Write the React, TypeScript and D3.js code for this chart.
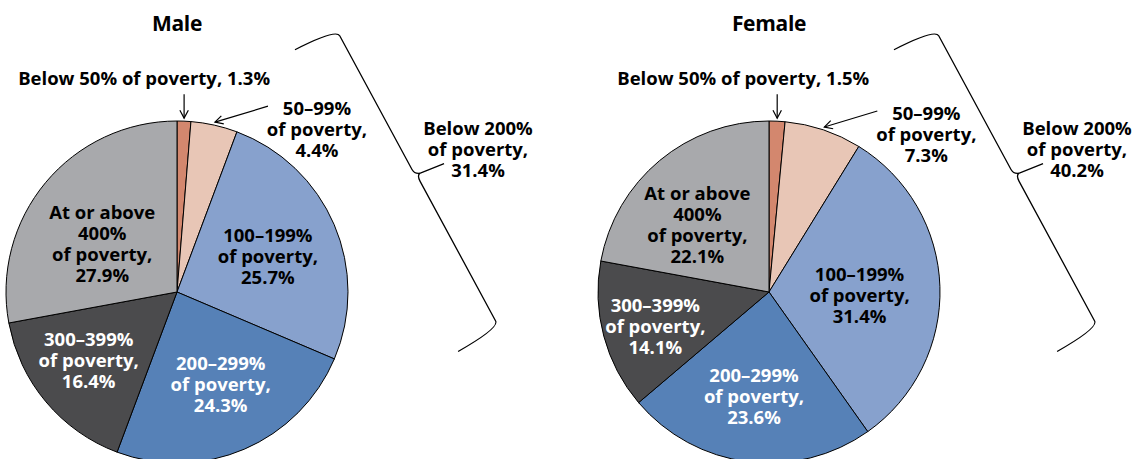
import React from "react";
import * as d3 from "d3";

// poverty bands, clockwise from 12 o'clock
const bands = ["Below 50%", "50–99%", "100–199%", "200–299%", "300–399%", "At or above 400%"];
const maleShares = [1.3, 4.4, 25.7, 24.3, 16.4, 27.9];
const femaleShares = [1.5, 7.3, 31.4, 23.6, 14.1, 22.1];
const below200Shares = [31.4, 40.2];
const panelTitles = ["Male", "Female"];

const bandColors = ["#d3876e", "#e8c6b6", "#87a1cd", "#5681b7", "#4b4b4d", "#a8a9ac"];
const textColors = ["#000", "#000", "#000", "#fff", "#fff", "#000"];

const W = 1144;
const H = 459;
const R = 171;
const LINE = 21;
const FONT = "'Open Sans', Lato, sans-serif";
const FS = 18.5;

// hand tuned placement of the annotations for each panel
const panels = [
  {
    cx: 177, cy: 292, braceDx: 0, below50Dx: -40,
    // [angle nudge in degrees, radius fraction] for bands 2..5
    nudge: [[2, 0.57], [-2, 0.6], [2, 0.655], [-7, 0.52]],
  },
  {
    cx: 769, cy: 292, braceDx: 7, below50Dx: -34,
    nudge: [[4, 0.53], [1, 0.615], [-2, 0.695], [-7, 0.575]],
  },
];

const fmt = d3.format(".1f");

const polar = (a: number, r: number): [number, number] => [r * Math.sin(a), -r * Math.cos(a)];

const linesFor = (i: number, v: number) => {
  const pct = fmt(v) + "%";
  if (i === 0) return [`${bands[0]} of poverty, ${pct}`];
  if (i === 5) return ["At or above", "400%", "of poverty,", pct];
  return [bands[i], "of poverty,", pct];
};

const Label = ({ x, y, lines, fill = "#000" }: { x: number; y: number; lines: string[]; fill?: string }) => (
  <text
    x={x}
    y={y}
    textAnchor="middle"
    fontFamily={FONT}
    fontWeight={700}
    fontSize={FS}
    fill={fill}
  >
    {lines.map((l, i) => (
      <tspan key={i} x={x} dy={i === 0 ? 0 : LINE}>
        {l}
      </tspan>
    ))}
  </text>
);

const Arrow = ({ x1, y1, x2, y2 }: { x1: number; y1: number; x2: number; y2: number }) => {
  const a = Math.atan2(y2 - y1, x2 - x1);
  const hl = 9;
  const spread = (28 * Math.PI) / 180;
  const h1 = [x2 - hl * Math.cos(a - spread), y2 - hl * Math.sin(a - spread)];
  const h2 = [x2 - hl * Math.cos(a + spread), y2 - hl * Math.sin(a + spread)];
  return (
    <g stroke="#000" strokeWidth={1.2} fill="none">
      <line x1={x1} y1={y1} x2={x2} y2={y2} />
      <polyline points={`${h1[0]},${h1[1]} ${x2},${y2} ${h2[0]},${h2[1]}`} />
    </g>
  );
};

const Brace = ({ cx, cy }: { cx: number; cy: number }) => {
  const th = (61.6 * Math.PI) / 180;
  const U = [Math.cos(th), Math.sin(th)];
  const V = [Math.sin(th), -Math.cos(th)];
  const L = 343;
  const h = 46;
  const t = 26;
  const m = 167;
  const ox = cx + 219 * V[0] - 157 * U[0];
  const oy = cy + 219 * V[1] - 157 * U[1];
  const P = (u: number, v: number): [number, number] => [ox + u * U[0] + v * V[0], oy + u * U[1] + v * V[1]];
  const p = d3.path();
  p.moveTo(...P(0, 0));
  p.quadraticCurveTo(...P(1, h), ...P(9, h));
  p.lineTo(...P(m - 6, h));
  p.quadraticCurveTo(...P(m - 1, h), ...P(m + 1, h + 5));
  p.lineTo(...P(m + 4, h + 5 + t));
  p.moveTo(...P(m + 1, h + 5));
  p.quadraticCurveTo(...P(m + 2, h + 1.5), ...P(m + 8, h + 1.5));
  p.lineTo(...P(L - 9, h + 1.5));
  p.quadraticCurveTo(...P(L - 1, h + 1.5), ...P(L, 0));
  return <path d={p.toString()} fill="none" stroke="#000" strokeWidth={1.3} />;
};

const PiePanel = ({ idx, values }: { idx: number; values: number[] }) => {
  const lay = panels[idx];
  const pie = d3.pie<number>().sort(null).value((d) => d);
  const arcs = pie(values);
  const arcGen = d3.arc<d3.PieArcDatum<number>>().innerRadius(0).outerRadius(R);
  const mid = (a: d3.PieArcDatum<number>) => (a.startAngle + a.endAngle) / 2;

  // arrows for the two thin slices
  const tip0 = polar(mid(arcs[0]), R + 3);
  const tip1 = polar(mid(arcs[1]), R + 3);
  const start1: [number, number] = [tip1[0] + 53, tip1[1] - 16];

  return (
    <g transform={`translate(${lay.cx},${lay.cy})`}>
      <text
        x={0}
        y={31 - lay.cy}
        textAnchor="middle"
        fontFamily={FONT}
        fontWeight={700}
        fontSize={21}
        letterSpacing={-0.3}
      >
        {panelTitles[idx]}
      </text>
      {arcs.map((a, i) => (
        <path key={i} d={arcGen(a) || ""} fill={bandColors[i]} stroke="#000" strokeWidth={1} />
      ))}
      {arcs.slice(2).map((a, k) => {
        const i = k + 2;
        const [dA, f] = lay.nudge[k];
        const [x, y] = polar(mid(a) + (dA * Math.PI) / 180, f * R);
        const lines = linesFor(i, values[i]);
        const y0 = y - ((lines.length - 1) * LINE) / 2 + 6.5;
        return <Label key={i} x={x} y={y0} lines={lines} fill={textColors[i]} />;
      })}

      <Arrow x1={tip0[0]} y1={tip0[1] - 24} x2={tip0[0]} y2={tip0[1]} />
      <Label x={tip0[0] + lay.below50Dx} y={tip0[1] - 33} lines={linesFor(0, values[0])} />

      <Arrow x1={start1[0]} y1={start1[1]} x2={tip1[0]} y2={tip1[1]} />
      <Label x={start1[0] + 49} y={start1[1] + 8.5} lines={linesFor(1, values[1])} />

      <Brace cx={lay.braceDx} cy={0} />
      <Label
        x={lay.braceDx + 301}
        y={-157}
        lines={["Below 200%", "of poverty,", fmt(below200Shares[idx]) + "%"]}
      />
    </g>
  );
};

export default function App() {
  return (
    <svg
      width={W}
      height={H}
      style={{ position: "absolute", left: 0, top: 0, background: "#fff" }}
    >
      <PiePanel idx={0} values={maleShares} />
      <PiePanel idx={1} values={femaleShares} />
    </svg>
  );
}
